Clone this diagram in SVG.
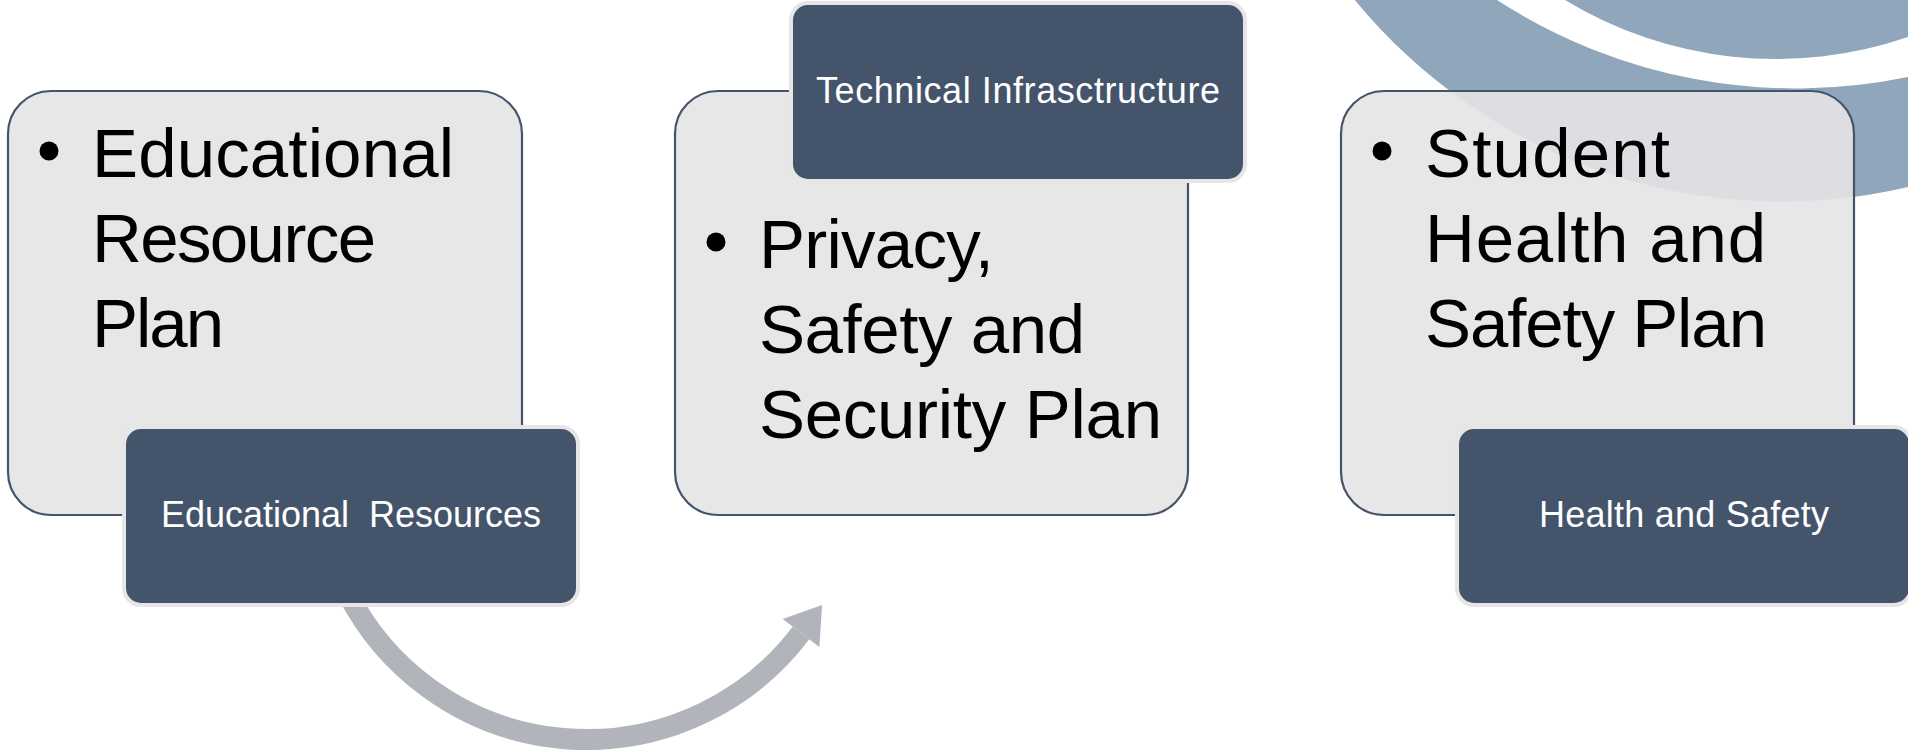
<svg xmlns="http://www.w3.org/2000/svg" width="1908" height="750" viewBox="0 0 1908 750">
  <defs>
    <style>
      .bg { fill: #8FA6BB; }
      .plan { fill: #E4E4E5; fill-opacity: 0.9; stroke: #44546A; stroke-width: 2.2; }
      .tag { fill: #44546A; stroke: #E6E6E7; stroke-width: 4; }
      .big { font-family: "Liberation Sans", Arial, sans-serif; font-size: 69px; fill: #000; }
      .lbl { font-family: "Liberation Sans", Arial, sans-serif; font-size: 36px; fill: #FFFFFF; text-anchor: middle; white-space: pre; }
      .dot { fill: #000; }
      .conn { fill: none; stroke: #B1B4BA; stroke-width: 21; }
    </style>
    <marker id="head" markerUnits="userSpaceOnUse" viewBox="0 -25 36 50" markerWidth="36" markerHeight="50" refX="0" refY="0" orient="auto" overflow="visible">
      <path d="M0,-23 L35,0 L0,23 Z" fill="#B1B4BA"/>
    </marker>
  </defs>

  <g id="background">
    <path class="bg" d="M1354.8,0 A552 552 0 0 0 1908,187 L1908,77 A551.2 551.2 0 0 1 1497,0 Z"/>
    <path class="bg" d="M1565,0 A407 407 0 0 0 1908,37 L1908,0 Z"/>
  </g>

  <g id="connectors">
    <path class="conn" d="M347,592 A268.6 268.6 0 0 0 801,633" marker-end="url(#head)"/>
  </g>

  <g id="node-educational-plan">
    <rect class="plan" x="8" y="91" width="514" height="424" rx="43"/>
    <circle class="dot" cx="49" cy="151" r="9.5"/>
    <text class="big" x="92" y="177" textLength="362">Educational</text>
    <text class="big" x="92" y="262" textLength="284">Resource</text>
    <text class="big" x="92" y="347" textLength="132">Plan</text>
  </g>

  <g id="node-privacy-plan">
    <rect class="plan" x="675" y="91" width="513" height="424" rx="43"/>
    <circle class="dot" cx="716" cy="242" r="9.5"/>
    <text class="big" x="759" y="268" textLength="235">Privacy,</text>
    <text class="big" x="759" y="353" textLength="326">Safety and</text>
    <text class="big" x="759" y="438" textLength="403">Security Plan</text>
  </g>

  <g id="node-health-plan">
    <rect class="plan" x="1341" y="91" width="513" height="424" rx="43"/>
    <circle class="dot" cx="1382" cy="151" r="9.5"/>
    <text class="big" x="1425" y="177" textLength="245">Student</text>
    <text class="big" x="1425" y="262" textLength="341">Health and</text>
    <text class="big" x="1425" y="347" textLength="342">Safety Plan</text>
  </g>

  <g id="node-educational-resources">
    <rect class="tag" x="124" y="427" width="454" height="178" rx="17"/>
    <text class="lbl" x="351" y="527" textLength="380">Educational  Resources</text>
  </g>

  <g id="node-technical-infrastructure">
    <rect class="tag" x="791" y="3" width="454" height="178" rx="17"/>
    <text class="lbl" x="1018" y="103" textLength="404">Technical Infrasctructure</text>
  </g>

  <g id="node-health-safety">
    <rect class="tag" x="1457" y="427" width="454" height="178" rx="17"/>
    <text class="lbl" x="1684" y="527" textLength="290">Health and Safety</text>
  </g>
</svg>
